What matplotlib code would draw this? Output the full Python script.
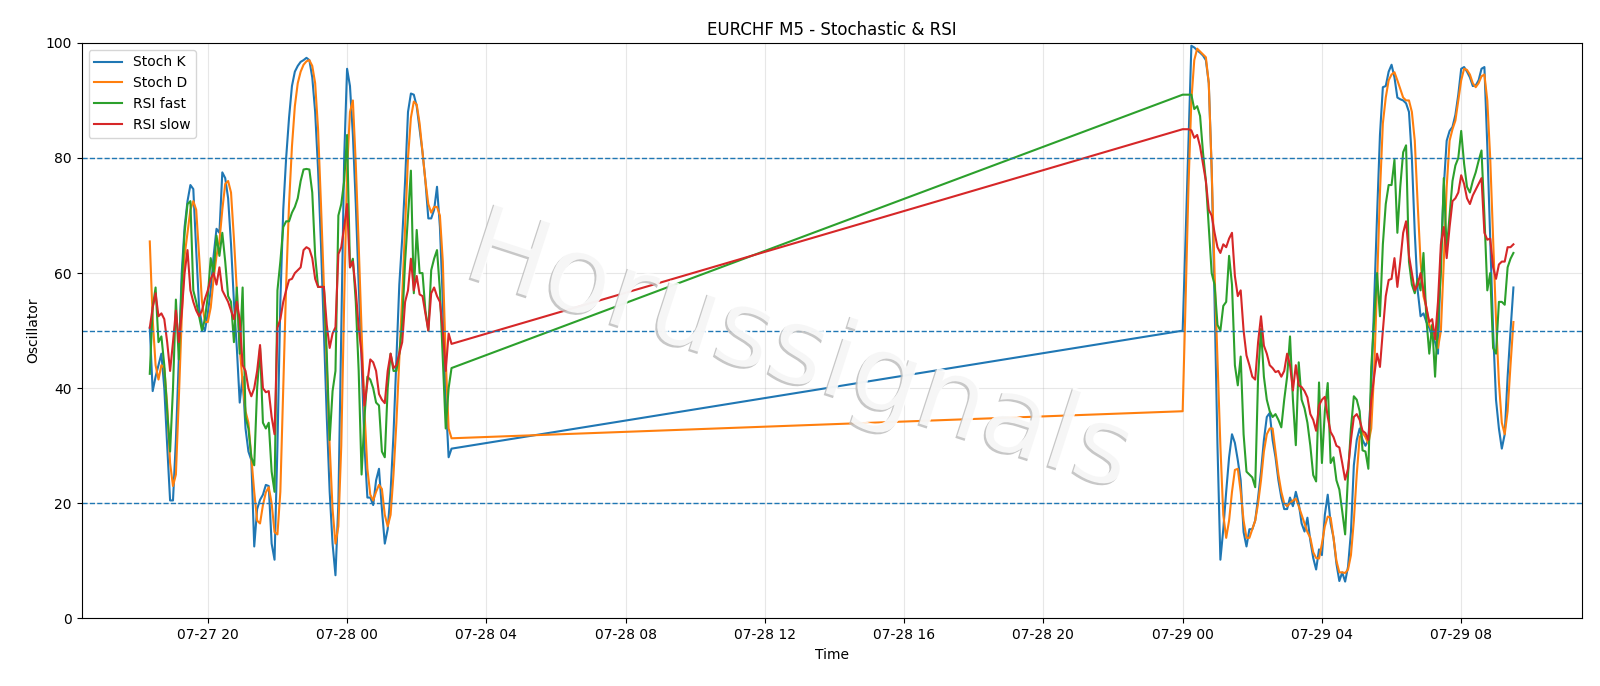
import matplotlib
matplotlib.use('Agg')
import matplotlib.pyplot as plt
import matplotlib.dates as mdates
import matplotlib.patheffects as pe
import pandas as pd

# ---- data (5-minute bars) ----
seg1_start = '2025-07-27 18:20'
seg2_start = '2025-07-29 00:00'

stoch_k_1 = [50.5, 39.5, 42, 44, 46, 40, 30, 20.5, 20.5, 31,
             45, 60, 68, 72.5, 75.3, 74.6, 64, 54, 51, 50,
             53, 57, 63, 67.7, 67, 77.5, 76.5, 73, 65, 55,
             47, 37.5, 42, 33, 29, 27.5, 12.5, 19, 20.6, 21.5,
             23.2, 23, 13, 10.2, 30, 55, 71, 80, 87, 92.5,
             95, 96, 96.7, 97, 97.4, 97, 94, 88, 78, 65,
             50, 35, 22, 13, 7.5, 20, 50, 80, 95.5, 92.5,
             84, 72, 58, 45, 30, 21, 21, 19.7, 24, 26,
             19, 13, 15.5, 22, 32, 45, 58, 66, 76, 88,
             91.2, 91, 89, 85, 81, 76, 69.5, 69.5, 71, 75,
             68, 55, 38, 28, 29.5]
stoch_d_1 = [65.5, 52, 44, 41.5, 44, 43.5, 37, 27, 23, 25,
             38, 52, 63, 67, 71, 72.5, 71, 63, 55, 51.5,
             51.5, 54, 59, 63, 65.5, 71, 75.5, 76, 74, 66,
             57, 47, 41, 36, 34, 28, 22, 17, 16.5, 19.7,
             21.9, 22.8, 20, 15, 14.6, 22, 40, 58, 72, 82,
             89, 93, 95, 96.2, 96.8, 97, 96, 93, 85, 72,
             58, 44, 30, 19, 13, 16, 30, 55, 78, 88,
             90, 79, 65, 50, 36, 26, 21.5, 20.5, 22, 23.2,
             22.5, 18, 16, 18, 25, 34, 45, 56, 68, 80,
             87, 89.8, 89.3, 86, 81, 76, 72, 70.5, 71.5, 71.5,
             70, 62, 45, 33, 31.3]
rsi_fast_1 = [42.5, 54, 57.5, 48, 49, 44, 36, 29, 40, 55.4,
              45, 58, 67, 72, 72.5, 57, 55, 52.5, 50, 52,
              56, 62.6, 60, 66.5, 63, 67, 62, 56, 55, 48,
              57.5, 46, 57.5, 35, 33, 28, 26.6, 40, 47, 34,
              33, 34, 25.5, 22, 57, 62, 68, 69, 69, 70.5,
              71.5, 73, 76, 78, 78.1, 78, 74, 63, 57.6, 57.6,
              57.6, 46, 31, 39.5, 43, 70, 72, 76, 84, 61,
              62.5, 55, 43, 25, 35, 42, 41.5, 40, 37.5, 37,
              29, 28, 40, 46, 43, 43, 46, 51.3, 62, 70,
              77.8, 56.5, 67.5, 60, 60, 53.5, 50, 60.5, 62.5, 64,
              57, 45, 33, 40, 43.5]
rsi_slow_1 = [50.5, 54, 56.5, 52.5, 53, 52, 48, 43, 48, 53.5,
              48, 53, 60, 64, 57, 55, 53.5, 52.5, 53.5, 55.5,
              57, 59, 60, 58, 61, 57, 56, 55, 53.5, 52,
              55, 52, 44, 43, 40, 38.6, 40, 43, 47.5, 40,
              39.3, 39.5, 35, 32, 50.5, 52, 55, 57, 58.8, 59,
              60, 60.5, 61, 64, 64.5, 64.2, 62.6, 59, 57.6, 57.6,
              57.6, 51, 47, 49.5, 50.6, 63.3, 64.5, 68, 72, 61,
              62, 57, 50.5, 46, 37, 41, 45, 44.5, 43, 39,
              38, 37.4, 43, 46, 43.5, 44, 46, 48, 55, 57,
              62.5, 57, 59.5, 56.3, 56, 53, 50, 56.5, 57.5, 56,
              55, 50, 43, 49.5, 47.7]

stoch_k_2 = [50, 66, 83, 99.5, 99.2, 98.7, 98.3, 97.8, 97, 93,
             78, 55, 30, 10.2, 15.5, 22, 28, 32, 30.5, 27.5,
             24, 15, 12.5, 15.5, 15.5, 17, 21, 25.5, 31, 35,
             35.7, 31, 28, 24, 21, 19, 19, 21, 19.5, 22,
             20, 16.5, 15.1, 17.5, 13.5, 10.5, 8.5, 12, 11, 18,
             21.5, 16.5, 14, 9.5, 6.5, 8, 6.4, 9, 15, 26.6,
             31, 33, 31, 30, 31, 40, 55, 70, 84, 92.3,
             92.5, 95, 96.2, 94, 90.5, 90.2, 90, 89.5, 88, 80,
             67, 57, 52.5, 53, 51.5, 50.5, 49, 48, 46, 63,
             75, 83, 84.7, 85.4, 87.5, 91, 95.5, 95.8, 95, 94,
             92.5, 92.6, 93.5, 95.5, 95.8, 82, 66, 50, 38, 33,
             29.5, 32, 42, 50, 57.5]
stoch_d_2 = [36, 55, 75, 90, 97, 99, 98.5, 98, 97.5, 93,
             78, 60, 45, 30, 18, 14, 17, 22, 25.8, 26,
             22, 17, 14, 14, 15.5, 17, 20, 24, 29, 32,
             33, 33, 29, 25, 22, 20, 19.5, 20, 20.5, 20.8,
             19.5, 18, 16.5, 15, 14, 11.5, 10.5, 10.4, 13, 16,
             17.7, 17.5, 14, 10, 8, 8, 7.9, 8.5, 11, 17,
             25, 31.5, 32.3, 31.5, 30.4, 33, 43, 58, 74, 86,
             90.5, 93.5, 94.5, 94.9, 93.5, 92, 90.5, 90, 90, 88,
             83, 72, 62, 56, 54, 51, 50, 50, 47, 50,
             62, 75, 83, 85, 86.5, 90, 93.5, 95.5, 95.3, 94.5,
             93, 92.3, 93, 94.2, 94.5, 90, 80, 66, 52, 41,
             34, 32, 36, 44, 51.5]
rsi_fast_2 = [91, 91, 91, 91, 88.5, 89, 87.3, 81, 76, 68,
              60, 58, 51, 50, 54.3, 55, 63, 58, 44, 40.5,
              45.5, 32, 25.5, 25, 24.5, 22.8, 42, 50.3, 42, 38,
              36, 35, 35.5, 34.5, 33.2, 38, 42, 49, 38, 30.1,
              44.5, 38, 36.5, 34, 30, 24.9, 23.8, 41, 27, 36,
              40.9, 27, 28, 24, 22.4, 18.6, 14.6, 25, 33, 38.6,
              38, 36, 29.2, 29, 26, 43.7, 52, 60, 52.5, 65,
              72, 75.3, 75.3, 79.7, 67, 75, 81, 82.2, 62, 58,
              56.5, 59, 57, 63.5, 52, 46, 51, 42, 52, 60,
              76.5, 64, 70, 76, 78.7, 80, 84.7, 79, 75, 74,
              76, 77.5, 79.5, 81.3, 70, 57, 60, 47, 46, 55,
              55, 54.5, 61, 62.5, 63.5]
rsi_slow_2 = [85, 85, 85, 84.8, 83.5, 84, 82, 79, 76, 71,
              70, 67, 64.5, 63.5, 65, 64.5, 66, 67, 59.5, 56,
              57, 50, 45.7, 44, 42, 41.5, 48, 52.5, 47.4, 46,
              44, 43.5, 42.8, 43, 42, 43, 46, 44, 39.6, 44,
              40.5, 40.2, 39.5, 38.4, 35.5, 34.5, 32.6, 37, 38, 38.5,
              35, 32.4, 31.5, 30, 29.7, 27, 24.1, 26, 31, 35,
              35.5, 34.5, 32.6, 32.2, 31, 38, 42, 46, 43.7, 50,
              56, 58.8, 59, 62.6, 57.6, 62, 67, 69, 63, 60,
              57, 58, 60, 57, 54, 51.5, 52, 48.5, 55, 65,
              68, 62.6, 68, 72.5, 73, 74, 77, 75.5, 73, 72,
              73.5, 74.5, 75.5, 76.5, 67, 65.8, 66, 61, 59, 61.5,
              62, 62, 64.5, 64.5, 65]

levels = [20, 50, 80]
series_labels = ['Stoch K', 'Stoch D', 'RSI fast', 'RSI slow']

# ---- build ----
t1 = pd.date_range(seg1_start, periods=len(stoch_k_1), freq='5min')
t2 = pd.date_range(seg2_start, periods=len(stoch_k_2), freq='5min')
t = t1.append(t2)
series = [stoch_k_1 + stoch_k_2, stoch_d_1 + stoch_d_2,
          rsi_fast_1 + rsi_fast_2, rsi_slow_1 + rsi_slow_2]

fig, ax = plt.subplots(figsize=(16, 6.86), dpi=100)
fig.subplots_adjust(left=0.051, right=0.9885, top=0.9375, bottom=0.0985)

for vals, lab in zip(series, series_labels):
    ax.plot(t, vals, label=lab, lw=1.5)
for lv in levels:
    ax.axhline(lv, ls='--', lw=1, color='C0')

ax.set_ylim(0, 100)
ax.set_title('EURCHF M5 - Stochastic & RSI')
ax.set_xlabel('Time')
ax.set_ylabel('Oscillator')
ax.grid(alpha=0.3)
ax.legend(loc='upper left')
ax.xaxis.set_major_locator(mdates.HourLocator(byhour=range(0, 24, 4)))
ax.xaxis.set_major_formatter(mdates.DateFormatter('%m-%d %H'))

fig.text(0.5, 0.485, 'Horussignals', fontsize=78, rotation=-18,
         ha='center', va='center', color='white', alpha=0.85, zorder=10,
         path_effects=[pe.withSimplePatchShadow(offset=(-1.4, -1.4),
                                                shadow_rgbFace='#bdbdbd',
                                                alpha=0.85)])

fig.savefig('out.png', dpi=100)
